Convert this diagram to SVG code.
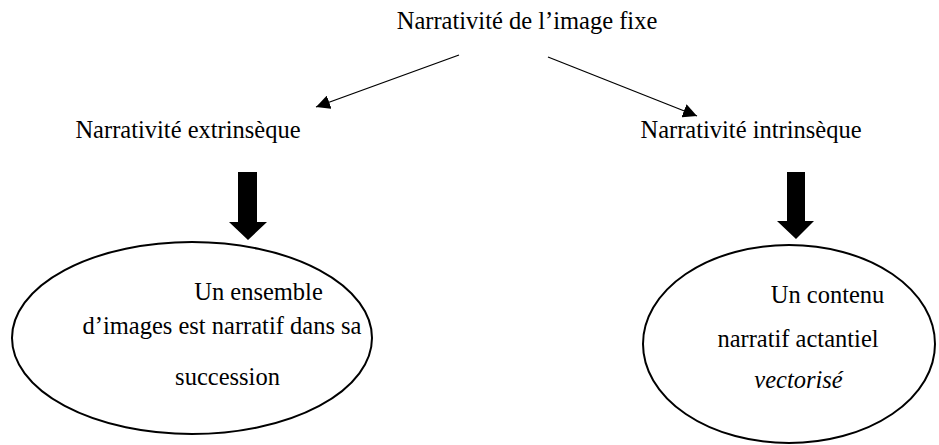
<svg xmlns="http://www.w3.org/2000/svg" width="939" height="445" viewBox="0 0 939 445">
  <style>
    text { font-family: "Liberation Serif", "Times New Roman", serif; font-size: 24.5px; fill: #000; text-anchor: middle; }
    .thin { stroke: #000; stroke-width: 1.3; fill: none; }
    .bubble { fill: #fff; stroke: #000; stroke-width: 2; }
    .block { fill: #000; }
  </style>
  <defs>
    <marker id="tip" viewBox="0 0 10 10" refX="10" refY="5" markerWidth="14" markerHeight="14" markerUnits="userSpaceOnUse" orient="auto">
      <path d="M0,0 L10,5 L0,10 Z" fill="#000"/>
    </marker>
  </defs>

  <g id="root">
    <text x="527" y="29">Narrativité de l’image fixe</text>
  </g>

  <g id="connectors">
    <line class="thin" x1="459" y1="55" x2="316" y2="107" marker-end="url(#tip)"/>
    <line class="thin" x1="548" y1="57" x2="697" y2="116" marker-end="url(#tip)"/>
    <path class="block" d="M238,172 H257 V222 H267 L248,240 L229,222 H238 Z"/>
    <path class="block" d="M787,172 H805 V221 H814 L796,239 L777,221 H787 Z"/>
  </g>

  <g id="extrinseque">
    <text x="188" y="138">Narrativité extrinsèque</text>
  </g>

  <g id="intrinseque">
    <text x="751" y="138">Narrativité intrinsèque</text>
  </g>

  <g id="ensemble">
    <ellipse class="bubble" cx="192" cy="338" rx="180" ry="96"/>
    <text x="258.5" y="300">Un ensemble</text>
    <text x="222" y="334">d’images est narratif dans sa</text>
    <text x="227.5" y="385">succession</text>
  </g>

  <g id="contenu">
    <ellipse class="bubble" cx="789" cy="344" rx="146" ry="99"/>
    <text x="827.5" y="303">Un contenu</text>
    <text x="798" y="347">narratif actantiel</text>
    <text x="798.5" y="388" font-style="italic">vectorisé</text>
  </g>
</svg>
